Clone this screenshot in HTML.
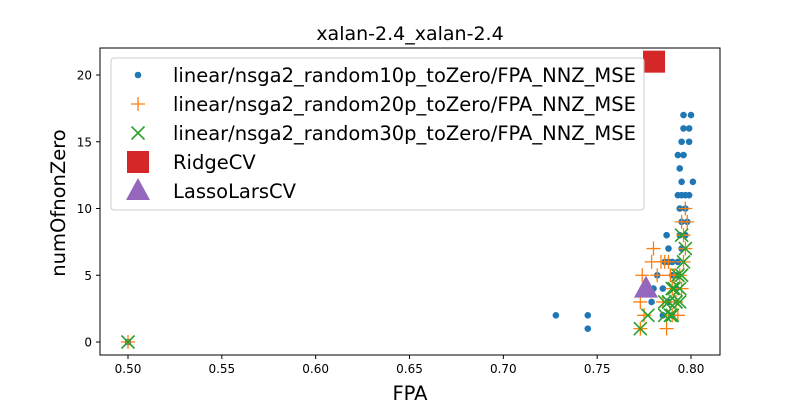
<!DOCTYPE html>
<html><head><meta charset="utf-8"><style>
body{margin:0;background:#fff}
svg{font-family:"DejaVu Sans","Liberation Sans",sans-serif}
</style></head><body>
<svg id="chart" width="800" height="400"></svg>
<script>
const blueX=[0.796,0.800,0.796,0.799,0.795,0.799,0.793,0.796,0.794,0.795,0.801,0.793,0.795,0.797,0.799,0.794,0.797,0.798,0.795,0.787,0.797,0.788,0.795,0.786,0.790,0.793,0.782,0.790,0.780,0.785,0.792,0.779,0.788,0.728,0.745,0.745,0.5,0.785,0.790,0.792,0.794,0.788];
const blueY=[17,17,16,16,15,15,14,14,13,12,12,11,11,11,11,10,10,9,9,8,8,7,7,6,6,6,5,5,4,4,4,3,3,2,2,1,0,2,2,5,8,6];
const orangeX=[0.5,0.773,0.787,0.775,0.773,0.774,0.779,0.780,0.782,0.786,0.789,0.790,0.792,0.795,0.796,0.797,0.796,0.798,0.797,0.795,0.790,0.793,0.785,0.784,0.788,0.791,0.794];
const orangeY=[0,1,1,2,3,5,6,7,5,6,5,4,3,4,6,7,8,9,10,9,2,2,3,6,6,5,5];
const greenX=[0.5,0.773,0.777,0.786,0.788,0.790,0.792,0.794,0.790,0.795,0.796,0.797,0.795,0.792,0.789,0.786,0.791,0.793,0.788,0.794];
const greenY=[0,1,2,2,3,2,3,4,4,5,6,7,8,3,2,3,4,5,3,3];
const ridgeX=[0.7803], ridgeY=[21];
const lassoX=[0.776], lassoY=[4];
const xTicks=[0.50,0.55,0.60,0.65,0.70,0.75,0.80];
const yTicks=[0,5,10,15,20];
const legendLabels=["linear/nsga2_random10p_toZero/FPA_NNZ_MSE","linear/nsga2_random20p_toZero/FPA_NNZ_MSE","linear/nsga2_random30p_toZero/FPA_NNZ_MSE","RidgeCV","LassoLarsCV"];

const NS="http://www.w3.org/2000/svg";
const svg=document.getElementById('chart');
const L=100,R=720,T=48,B=355;
const sx=v=>128+(v-0.5)*1876.7;
const sy=v=>342-v*13.35;
function mk(tag,attrs,parent){const e=document.createElementNS(NS,tag);for(const k in attrs)e.setAttribute(k,attrs[k]);(parent||svg).appendChild(e);return e;}
function txt(s,attrs){const e=mk('text',attrs);e.textContent=s;return e;}

const title=txt("xalan-2.4_xalan-2.4",{x:410,y:40,'text-anchor':'middle','font-size':19});



xTicks.forEach(t=>{const x=sx(t);
 mk('line',{x1:x,x2:x,y1:B,y2:B+4,stroke:'#000'});
 const e=txt(t.toFixed(2),{x:x,y:B+18,'text-anchor':'middle','font-size':12});
 
 });
yTicks.forEach(t=>{const y=sy(t);
 mk('line',{x1:L-4,x2:L,y1:y,y2:y,stroke:'#000'});
 const e=txt(String(t),{x:L-8,y:y+4.5,'text-anchor':'end','font-size':12});
 
 });
const xl=txt("FPA",{x:410,y:400,'text-anchor':'middle','font-size':19.5});


const yl=txt("numOfnonZero",{x:0,y:0,'text-anchor':'middle','font-size':19.5,transform:'translate(65,203) rotate(-90)'});



function dot(x,y,p){mk('circle',{cx:x,cy:y,r:3.3,fill:'#1f77b4'},p);}
function plus(x,y,p){mk('path',{d:`M${x-7},${y}H${x+7}M${x},${y-7}V${y+7}`,stroke:'#ff7f0e','stroke-width':1.3,fill:'none'},p);}
function cross(x,y,p){mk('path',{d:`M${x-6.5},${y-6.5}L${x+6.5},${y+6.5}M${x-6.5},${y+6.5}L${x+6.5},${y-6.5}`,stroke:'#2ca02c','stroke-width':1.6,fill:'none'},p);}
function sq(x,y,p){mk('rect',{x:x-11,y:y-11,width:22,height:22,fill:'#d62728'},p);}
function tri(x,y,p){mk('path',{d:`M${x},${y-13}L${x+12},${y+9}L${x-12},${y+9}Z`,fill:'#9467bd'},p);}

const g1=mk('g',{});
blueX.forEach((v,i)=>dot(sx(v),sy(blueY[i]),g1));
const g2=mk('g',{});
orangeX.forEach((v,i)=>plus(sx(v),sy(orangeY[i]),g2));
const g3=mk('g',{});
greenX.forEach((v,i)=>cross(sx(v),sy(greenY[i]),g3));
const g4=mk('g',{});
ridgeX.forEach((v,i)=>sq(sx(v),sy(ridgeY[i]),g4));
const g5=mk('g',{});
lassoX.forEach((v,i)=>tri(sx(v),sy(lassoY[i]),g5));

mk('rect',{x:L,y:T,width:R-L,height:B-T,fill:'none',stroke:'#000','stroke-width':1});

const lg=mk('g',{});
mk('rect',{x:111,y:58,width:533,height:152,rx:3,fill:'#fff','fill-opacity':0.8,stroke:'#ccc'},lg);
const marks=[dot,plus,cross,sq,tri];
legendLabels.forEach((s,i)=>{const y=75+i*29;
 marks[i](138,y,lg);
 const e=mk('text',{x:173,y:y+7,'font-size':19.5},lg);e.textContent=s;
 
 });
</script>
</body></html>
